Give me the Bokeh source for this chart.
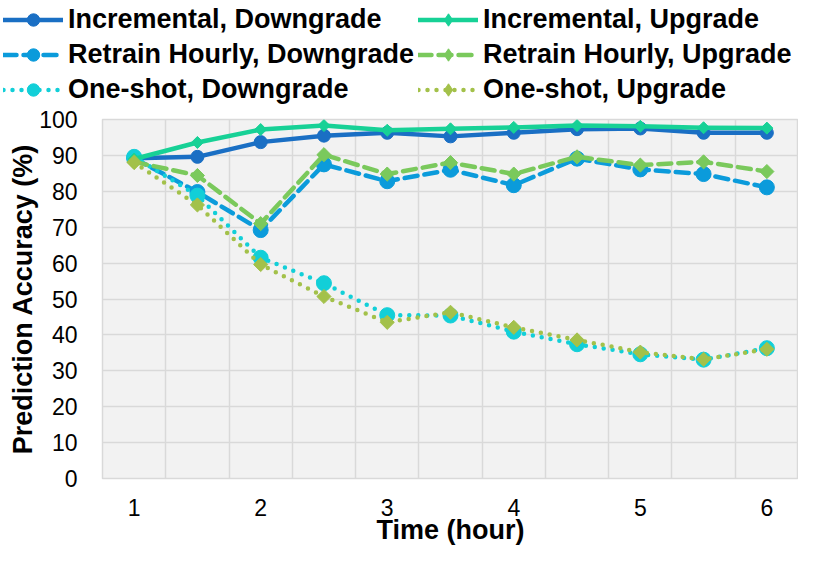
import numpy as np
from bokeh.plotting import figure
from bokeh.models import Legend, LegendItem, FixedTicker
from bokeh.embed import file_html
from bokeh.resources import INLINE

# ---- data ----
time_h = [1, 1.5, 2, 2.5, 3, 3.5, 4, 4.5, 5, 5.5, 6]
x_tick_labels = [1, 2, 3, 4, 5, 6]
y_ticks = [0, 10, 20, 30, 40, 50, 60, 70, 80, 90, 100]

inc_down = [89.2, 89.6, 93.7, 95.5, 96.3, 95.3, 96.3, 97.3, 97.5, 96.3, 96.3]
inc_up = [89.0, 93.6, 97.2, 98.3, 97.0, 97.4, 97.8, 98.3, 98.1, 97.7, 97.6]
ret_down = [89.2, 79.8, 69.2, 87.5, 82.8, 86.0, 81.7, 89.1, 86.1, 84.8, 81.1]
ret_up = [88.2, 84.4, 71.0, 90.2, 84.8, 88.0, 84.8, 89.6, 87.3, 88.2, 85.5]
one_down = [89.6, 78.8, 61.5, 54.4, 45.5, 45.4, 40.9, 37.4, 34.6, 33.1, 36.3]
one_up = [88.0, 76.2, 59.6, 50.7, 43.5, 46.3, 42.1, 38.6, 35.2, 33.2, 36.0]

series_names = ["Incremental, Downgrade", "Retrain Hourly, Downgrade", "One-shot, Downgrade",
                "Incremental, Upgrade", "Retrain Hourly, Upgrade", "One-shot, Upgrade"]
series_values = [inc_down, ret_down, one_down, inc_up, ret_up, one_up]
series_colors = ["#1a6fc4", "#0b9bdb", "#12cfd8", "#17d196", "#7ac95c", "#a3c14a"]
series_dash = ["solid", "13 7", "0 9", "solid", "13 7", "0 9"]
series_marker = ["circle", "circle", "circle", "square", "square", "square"]
series_msize = [13, 15, 15, 8.5, 10, 10]

FONT = "Liberation Sans"
TOTAL_H = 547
LEG_H = 105

# ---- main chart ----
p = figure(width=798, height=TOTAL_H - LEG_H, output_backend="svg", toolbar_location=None,
           x_range=(0.75, 6.25), y_range=(0, 100),
           min_border_left=102, min_border_right=0, min_border_top=14, min_border_bottom=63)

p.background_fill_color = "#f2f2f2"
p.border_fill_color = "white"
p.outline_line_color = "#d9d9d9"
p.outline_line_width = 1.5

p.xgrid.ticker = FixedTicker(ticks=[1.25, 1.75, 2.25, 2.75, 3.25, 3.75, 4.25, 4.75, 5.25, 5.75])
p.ygrid.ticker = FixedTicker(ticks=y_ticks)
for g in (p.xgrid, p.ygrid):
    g.grid_line_color = "#d9d9d9"
    g.grid_line_width = 1.5

p.xaxis.ticker = FixedTicker(ticks=x_tick_labels)
p.yaxis.ticker = FixedTicker(ticks=y_ticks)
for ax in (p.xaxis, p.yaxis):
    ax.axis_line_color = None
    ax.major_tick_line_color = None
    ax.minor_tick_line_color = None
    ax.major_label_text_font = FONT
    ax.major_label_text_font_size = "23px"
    ax.major_label_text_color = "#000000"
    ax.axis_label_text_font = FONT
    ax.axis_label_text_font_size = "27px"
    ax.axis_label_text_font_style = "bold"
    ax.axis_label_text_color = "#000000"
p.xaxis.axis_label = "Time (hour)"
p.yaxis.axis_label = "Prediction Accuracy (%)"
p.xaxis.major_label_standoff = 14
p.xaxis.axis_label_standoff = -4
p.yaxis.major_label_standoff = 19
p.yaxis.axis_label_standoff = -2

# ---- legend strip (same series, drawn outside its visible ranges) ----
lf = figure(width=798, height=LEG_H, output_backend="svg", toolbar_location=None,
            x_axis_type=None, y_axis_type=None,
            x_range=(100, 101), y_range=(1000, 1001), min_border=0)
lf.grid.visible = False
lf.outline_line_color = None
lf.background_fill_color = "white"

items = []
for name, vals, col, dash, mk, ms in zip(series_names, series_values, series_colors,
                                          series_dash, series_marker, series_msize):
    ang = np.pi / 4 if mk == "square" else 0
    p.line(time_h, vals, line_color=col, line_width=4.5, line_dash=dash,
           line_cap="round", line_join="round")
    p.scatter(time_h, vals, marker=mk, size=ms, angle=ang,
              fill_color=col, line_color=col, line_width=1)
    leg_mk = "diamond" if mk == "square" else mk
    l1 = lf.line(time_h, vals, line_color=col, line_width=4.5, line_dash=dash,
                 line_cap="round", line_join="round")
    l2 = lf.scatter(time_h, vals, marker=leg_mk, size=ms,
                    fill_color=col, line_color=col, line_width=1)
    items.append(LegendItem(label=name, renderers=[l1, l2]))

legend = Legend(items=items, ncols=2, location=(3, 0),
                label_text_font=FONT, label_text_font_size="27px",
                label_text_font_style="bold", label_text_color="#000000",
                glyph_width=60, glyph_height=31, label_height=31, label_width=346,
                label_standoff=5, spacing=4, padding=0, margin=0,
                background_fill_alpha=0, border_line_color=None)
lf.add_layout(legend, "center")

open("out.html", "w").write(file_html([lf, p], INLINE))
